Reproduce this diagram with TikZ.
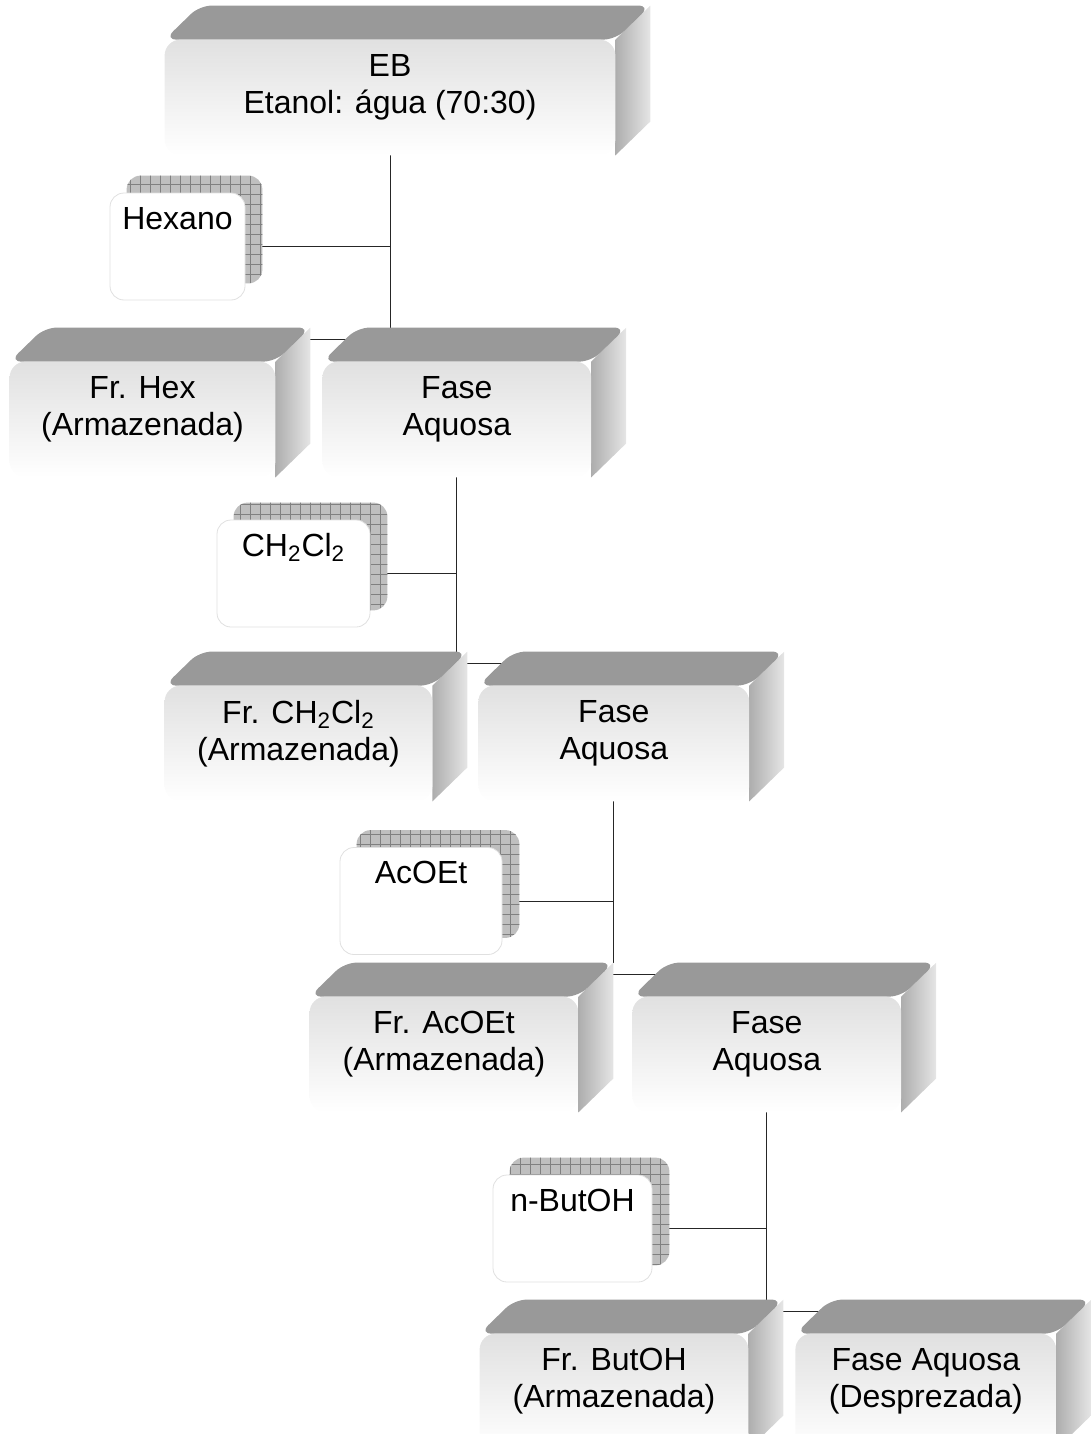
\documentclass[tikz,border=0pt]{standalone}
\usepackage{fontspec}
\setmainfont{Liberation Sans}
\usetikzlibrary{positioning, backgrounds, patterns.meta, calc}

\begin{document}
\begin{tikzpicture}[
	x=0.5pt, y=-0.5pt,
	every node/.style={font=\fontsize{16}{18.5}\selectfont},
	slab/.style={minimum width=134pt, minimum height=47.5pt, align=center, inner sep=0pt},
	solvent/.style={draw=black!12, fill=white, rounded corners=7pt, inner sep=0pt, text height=18pt, text depth=35.5pt},
	link/.style={draw=black!85, line width=0.5pt},
	topface/.style={fill=black!40, rounded corners=6pt},
	sideface/.style={left color=black!32, right color=black!10},
	frontface/.style={top color=black!12, bottom color=white, rounded corners=8pt},
	gridshadow/.style={fill=black!25, rounded corners=7pt, postaction={pattern={Hatch[distance=5pt, angle=0, line width=0.3pt]}, pattern color=black!50}}
	]
	\useasboundingbox (0,0) rectangle (1091,1434);
	
	% Nodes
	\node[slab, minimum width=225pt] (eb) at (390,87.5) {EB\\Etanol: água (70:30)};
	
	\node[solvent, minimum width=67.5pt] (hexano) at (177.5,246.5) {Hexano};
	\node[slab, minimum width=132.5pt] (frhex) at (142.5,409.5) {Fr. Hex\\(Armazenada)};
	\node[slab, right=23.5pt of frhex] (aq1) {Fase\\Aquosa};
	
	\node[solvent, minimum width=76.5pt] (dcm) at (293.5,573.5) {CH\textsubscript{2}Cl\textsubscript{2}};
	\node[slab, minimum width=133.5pt] (frdcm) at (298.5,733.5) {Fr. CH\textsubscript{2}Cl\textsubscript{2}\\(Armazenada)};
	\node[slab, minimum width=135pt, right=23pt of frdcm] (aq2) {Fase\\Aquosa};
	
	\node[solvent, minimum width=81pt] (acoet) at (421,901) {AcOEt};
	\node[slab] (fracoet) at (444,1044.5) {Fr. AcOEt\\(Armazenada)};
	\node[slab, right=27pt of fracoet] (aq3) {Fase\\Aquosa};
	
	\node[solvent, minimum width=79.5pt] (butoh) at (572.5,1228.5) {n-ButOH};
	\node[slab] (frbutoh) at (614,1381.5) {Fr. ButOH\\(Armazenada)};
	\node[slab, minimum width=130pt, right=23.5pt of frbutoh] (aqdesp) {Fase Aquosa\\(Desprezada)};
	
	% Connectors
	\begin{scope}[on background layer]
		\foreach \up/\solv/\fr/\aq in {eb/hexano/frhex/aq1, aq1/dcm/frdcm/aq2, aq2/acoet/fracoet/aq3, aq3/butoh/frbutoh/aqdesp} {
			\draw[link] ([yshift=-7pt]\up.south) -- ($(\up.south |- \aq.north)+(0,-34)$);
			\draw[link] ([xshift=8.5pt]\solv.east) -- (\solv.east -| \up.south);
			\draw[link] ([shift={(35,-22)}]\fr.north east) -- ([shift={(35,-22)}]\aq.north west);
		}
	\end{scope}
	
	% Faces and shadows
	\begin{scope}[on background layer]
		\foreach \n in {hexano, dcm, acoet, butoh}
			\fill[gridshadow] ([shift={(17,-17)}]\n.south west) rectangle ([shift={(17,-17)}]\n.north east);
		\foreach \n in {eb, frhex, aq1, frdcm, aq2, fracoet, aq3, frbutoh, aqdesp} {
			\shade[sideface] (\n.north east) -- ++(35,-34) -- ([shift={(35,-14)}]\n.south east) -- ([shift={(0,20)}]\n.south east) -- cycle;
			\fill[topface] (\n.north west) -- ++(35,-34) -- ([shift={(35,-34)}]\n.north east) -- (\n.north east) -- cycle;
			\shade[frontface] (\n.north west) rectangle ([shift={(0,20)}]\n.south east);
		}
	\end{scope}
	
\end{tikzpicture}
\end{document}
